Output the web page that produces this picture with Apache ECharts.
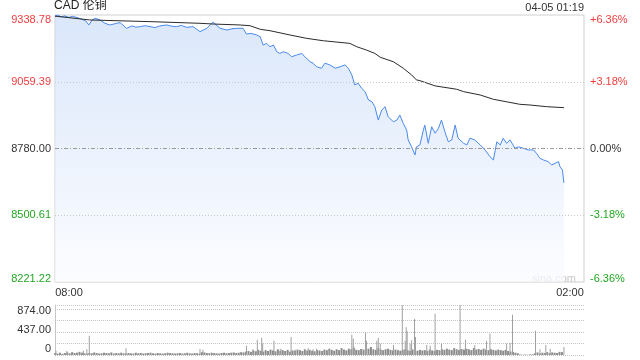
<!DOCTYPE html>
<html><head><meta charset="utf-8">
<script src="https://cdn.jsdelivr.net/npm/echarts@6/dist/echarts.min.js"></script>
<style>html,body{margin:0;padding:0;background:#fff}#c{width:640px;height:360px}</style>
</head><body><div id="c"></div>
<script>
const chartTitle = 'CAD 伦铜';
const stamp = '04-05 01:19';
const watermark = 'sina.com';
const prevClose = 8780.00;
const priceMin = 8221.22, priceMax = 9338.78;
const priceTicks = [8221.22, 8500.61, 8780.00, 9059.39, 9338.78];
const pctMin = -6.36, pctMax = 6.36;
const pctTicks = [-6.36, -3.18, 0, 3.18, 6.36];
const sessionStartMinute = 8 * 60;
const sessionLength = 1080;
const timeTicks = [0, 1080];
const volMax = 874;
const volTicks = [0, 437, 874];

const priceTimes = [
  0,6,12,20,28,36,45,55,63,69,
  76,82,92,102,112,126,133,146,157,165,
  174,184,194,204,214,228,238,248,258,269,
  282,296,310,318,323,327,337,351,361,371,
  384,391,400,412,419,425,432,439,446,453,
  459,466,476,483,493,504,510,521,527,534,
  544,551,561,572,582,592,599,606,612,619,
  626,633,640,647,653,660,667,674,680,691,
  698,704,711,718,721,728,735,738,745,752,
  755,762,769,776,783,789,796,803,810,817,
  823,834,841,847,857,868,878,888,895,902,
  909,915,922,929,939,946,956,966,977,983,
  990,997,1007,1014,1021,1028,1031,1036,1039
];
const prices = [
  9334,9338.78,9331,9335,9329,9333,9328,9321,9314,9297,
  9318,9325,9318,9304,9297,9304,9307,9283,9293,9288,
  9290,9294,9290,9286,9293,9297,9292,9290,9295,9287,
  9290,9269,9283,9300,9309,9311,9283,9276,9281,9283,
  9283,9259,9262,9255,9248,9213,9220,9206,9213,9185,
  9178,9185,9178,9164,9171,9178,9164,9143,9137,9122,
  9116,9137,9130,9116,9122,9130,9116,9088,9046,9053,
  9032,9018,8983,8976,8955,8899,8941,8955,8913,8892,
  8899,8920,8885,8857,8816,8787,8753,8787,8795,8857,
  8878,8802,8871,8844,8865,8899,8850,8808,8816,8878,
  8823,8802,8795,8823,8816,8795,8774,8746,8732,8808,
  8795,8823,8802,8816,8781,8787,8781,8774,8774,8760,
  8739,8732,8725,8711,8718,8725,8704,8690,8636
];
const avgTimes = [0,71,194,296,323,378,398,419,439,480,514,548,602,616,636,653,664,691,711,728,738,745,776,820,834,868,895,949,970,1004,1039];
const avgPrices = [9334,9318,9311,9304,9301,9297,9294,9279,9273,9255,9241,9231,9220,9206,9192,9178,9162,9143,9116,9088,9067,9064,9042,9028,9018,9004,8986,8965,8962,8955,8951];

const baseVolStep = 5;
const baseVols = [
  30,25,40,20,35,45,30,50,35,40, 55,40,30,25,35,30,45,35,25,30,
  40,35,30,45,25,35,30,40,30,25, 35,30,25,40,30,35,25,30,35,40,
  30,25,35,30,25,30,40,35,30,25, 30,35,25,30,40,30,25,35,30,25,
  50,45,35,30,40,35,30,25,35,40, 30,35,40,45,35,40,50,45,
  60,70,55,80,65,90,75,60,85,70, 95,80,65,100,75,85,70,90,60,80,
  75,95,85,70,100,80,90,75,65,85, 80,70,95,85,110,90,75,100,85,120,
  95,80,110,100,130,90,85,105,95,80, 110,140,100,90,120,95,85,100,110,90,
  80,95,85,75,90,100,85,70,95,80, 75,90,80,85,70,95,80,75,90,85,
  100,90,110,95,85,120,100,90,105,95, 110,100,85,120,95,105,90,110,95,85,
  100,90,80,95,85,75,90,70,60,55, 40,30,
  10,5,8,5,10,12,
  30,45,25,40,35,50,30,45,40,35,55,50
];
const spikeTimes = [2,24,58,65,70,145,296,302,391,404,413,422,424,447,461,482,490,517,527,534,545,561,592,606,609,612,634,636,657,660,664,691,709,715,717,719,725,728,734,736,759,766,776,789,827,838,857,881,888,922,929,934,981,990,1002,1011,1039];
const spikeVols = [75,70,75,100,335,120,105,90,160,100,265,300,200,250,110,315,90,120,100,110,70,80,80,355,285,100,390,250,250,300,200,175,870,250,485,420,200,260,630,315,175,160,720,195,874,265,170,250,370,200,215,705,425,100,175,110,140];

const FONT = '"Liberation Sans", Arial, "Noto Sans CJK SC", sans-serif';
const RED = '#f23c3c', GREEN = '#22a822', NEUTRAL = '#333';

function fmtTime(m) {
  const t = (sessionStartMinute + m) % 1440;
  const h = Math.floor(t / 60), mm = t % 60;
  return String(h).padStart(2, '0') + ':' + String(mm).padStart(2, '0');
}
function pos(v, lo, hi) { return v >= hi - 1e-6 ? 'T' : (v <= lo + 1e-6 ? 'B' : ''); }

const chart = echarts.init(document.getElementById('c'), null, {renderer: 'canvas'});
const priceData = priceTimes.map((t, i) => [t, prices[i]]);
const avgData = avgTimes.map((t, i) => [t, avgPrices[i]]);
const baseData = baseVols.map((v, i) => [i * baseVolStep, v]);
const spikeData = spikeTimes.map((t, i) => [t, spikeVols[i]]);

const labelRich = {
  rT: {color: RED, padding: [10, 0, 0, 0]}, r: {color: RED}, n: {color: NEUTRAL},
  g: {color: GREEN}, gB: {color: GREEN, padding: [0, 0, 7, 0]}
};
const volRich = {
  kT: {color: NEUTRAL, padding: [11, 0, 0, 0]}, k: {color: NEUTRAL}, kB: {color: NEUTRAL, padding: [0, 0, 13, 0]}
};

chart.setOption({
  animation: false,
  textStyle: {fontFamily: FONT},
  title: [
    {text: chartTitle, left: 54, top: 0, padding: 0, textStyle: {fontSize: 12, fontWeight: 'normal', color: '#222', fontFamily: FONT}},
    {text: stamp, right: 56, top: 2, padding: 0, textStyle: {fontSize: 11, fontWeight: 'normal', color: '#333', fontFamily: FONT}}
  ],
  graphic: [
    {type: 'text', left: 532, top: 273, silent: true, style: {text: watermark, fill: '#c8c8c8', font: '11px ' + FONT}}
  ],
  grid: [
    {left: 55, right: 56, top: 15, height: 267, show: true, borderColor: '#cfcfcf', borderWidth: 1, backgroundColor: 'transparent'},
    {left: 55, right: 56, top: 305, height: 50}
  ],
  xAxis: [
    {type: 'value', gridIndex: 0, min: 0, max: sessionLength,
      axisLine: {show: false}, axisTick: {show: false}, splitLine: {show: false},
      axisLabel: {customValues: timeTicks, margin: 5, fontSize: 11, color: '#333', fontFamily: FONT,
        formatter: v => (v <= 0 ? '{l|' : '{r|') + fmtTime(v) + '}',
        rich: {l: {padding: [0, 0, 0, 28]}, r: {padding: [0, 28, 0, 0]}}}},
    {type: 'value', gridIndex: 1, min: 0, max: sessionLength, show: false},
    {type: 'value', gridIndex: 1, min: 0, max: sessionLength, show: false}
  ],
  yAxis: [
    {type: 'value', gridIndex: 0, min: priceMin, max: priceMax, position: 'left',
      axisLine: {show: false}, axisTick: {show: false}, splitLine: {show: false},
      axisLabel: {customValues: priceTicks, margin: 4, fontSize: 11, fontFamily: FONT,
        formatter: v => {
          const c = v > prevClose + 0.001 ? 'r' : (v < prevClose - 0.001 ? 'g' : 'n');
          return '{' + c + pos(v, priceMin, priceMax) + '|' + v.toFixed(2) + '}';
        }, rich: labelRich}},
    {type: 'value', gridIndex: 0, min: pctMin, max: pctMax, position: 'right',
      axisLine: {show: false}, axisTick: {show: false}, splitLine: {show: false},
      axisLabel: {customValues: pctTicks, margin: 6, fontSize: 11, fontFamily: FONT,
        formatter: v => {
          const c = v > 0.0001 ? 'r' : (v < -0.0001 ? 'g' : 'n');
          const s = (v > 0.0001 ? '+' : '') + v.toFixed(2) + '%';
          return '{' + c + pos(v, pctMin, pctMax) + '|' + s + '}';
        }, rich: labelRich}},
    {type: 'value', gridIndex: 1, min: 0, max: volMax, position: 'left',
      axisLine: {show: true, lineStyle: {color: '#cfcfcf'}}, axisTick: {show: false},
      splitLine: {show: true, lineStyle: {color: '#c4c4c4', type: [1, 1]}},
      axisLabel: {customValues: volTicks, margin: 4, fontSize: 11, fontFamily: FONT,
        formatter: v => '{k' + pos(v, 0, volMax) + '|' + (v === 0 ? '0' : v.toFixed(2)) + '}', rich: volRich},
      axisPointer: {show: false}},
    {type: 'value', gridIndex: 1, min: 0, max: volMax, position: 'right',
      axisLine: {show: true, lineStyle: {color: '#c4c4c4', type: [1, 1]}}, axisTick: {show: false},
      axisLabel: {show: false}, splitLine: {show: false}}
  ],
  series: [
    {type: 'line', name: 'price', xAxisIndex: 0, yAxisIndex: 0, data: priceData,
      showSymbol: false, symbol: 'none', lineStyle: {color: '#4a89ee', width: 1},
      areaStyle: {origin: 'start', color: new echarts.graphic.LinearGradient(0, 0, 0, 1, [
        {offset: 0, color: '#cadcf8'}, {offset: 1, color: '#fafbff'}])},
      markLine: {silent: true, symbol: ['none', 'none'], label: {show: false},
        data: [
          {yAxis: priceTicks[3], lineStyle: {color: '#c8c8c8', type: [1, 2], width: 1}},
          {yAxis: priceTicks[2], lineStyle: {color: '#9a9a9a', type: [4, 2, 1, 2], width: 1}},
          {yAxis: priceTicks[1], lineStyle: {color: '#c8c8c8', type: [1, 2], width: 1}}
        ]}},
    {type: 'line', name: 'avg', xAxisIndex: 0, yAxisIndex: 0, data: avgData,
      showSymbol: false, symbol: 'none', lineStyle: {color: '#2a2a2a', width: 1}},
    {type: 'bar', name: 'vol', xAxisIndex: 1, yAxisIndex: 2, data: baseData, barWidth: 2,
      itemStyle: {color: '#8c8c8c'}},
    {type: 'bar', name: 'volSpike', xAxisIndex: 2, yAxisIndex: 2, data: spikeData, barWidth: 1,
      itemStyle: {color: '#a0a0a0'}}
  ]
});
</script></body></html>
